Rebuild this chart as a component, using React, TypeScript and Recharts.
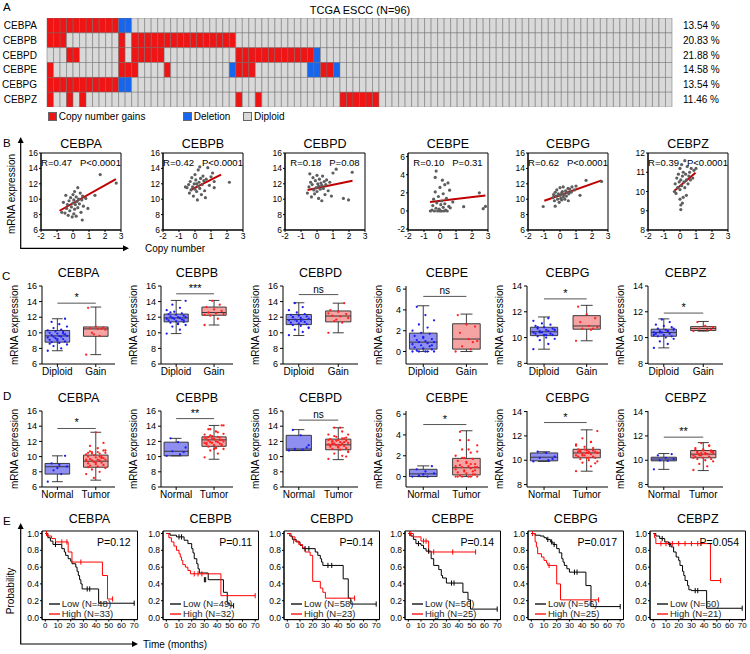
import React from 'react';
import {
  BarChart, Bar, Cell, XAxis, YAxis, ScatterChart, Scatter, ComposedChart, Line,
  ReferenceLine, ReferenceArea, Legend,
} from 'recharts';

const FONT = '"Liberation Sans", Arial, Helvetica, sans-serif';

const genes = ['CEBPA', 'CEBPB', 'CEBPD', 'CEBPE', 'CEBPG', 'CEBPZ'];

// ---- A: copy number status per sample (G = gain, D = deletion, N = diploid), 96 samples
const cnaStatus = [
  'G'.repeat(11) + 'DD' + 'N'.repeat(83),
  'GGG' + 'N'.repeat(8) + 'GN' + 'G'.repeat(16) + 'N'.repeat(67),
  'NNN' + 'GG' + 'N'.repeat(6) + 'GN' + 'G'.repeat(5) + 'N'.repeat(11) + 'G'.repeat(12) + 'D' + 'N'.repeat(54),
  'G' + 'N'.repeat(10) + 'GGG' + 'NNNN' + 'G' + 'N'.repeat(9) + 'D' + 'GGG' + 'N'.repeat(8) + 'DD' + 'GG' + 'D' + 'N'.repeat(51),
  'G'.repeat(11) + 'DD' + 'N'.repeat(83),
  'GNNGNG' + 'N'.repeat(23) + 'GNNG' + 'N'.repeat(12) + 'G'.repeat(6) + 'N'.repeat(45),
];
const cnaPct = ['13.54 %', '20.83 %', '21.88 %', '14.58 %', '13.54 %', '11.46 %'];
const cnaColor: Record<string, string> = { G: '#f01414', D: '#1666f0', N: '#d9d9d9' };

// ---- B: copy number vs mRNA expression
const bStats = [
  ['R=0.47', 'P<0.0001'], ['R=0.42', 'P<0.0001'], ['R=0.18', 'P=0.08'],
  ['R=0.10', 'P=0.31'], ['R=0.62', 'P<0.0001'], ['R=0.39', 'P<0.0001'],
];
const bDomain = [[6, 16], [6, 16], [6, 16], [-2.1, 6.4], [6, 16], [8, 12]];
const bTicks = [
  [6, 8, 10, 12, 14, 16], [6, 8, 10, 12, 14, 16], [6, 8, 10, 12, 14, 16],
  [-2, 0, 2, 4, 6], [6, 8, 10, 12, 14, 16], [8, 9, 10, 11, 12],
];
const bPoints = [
  [[-0.5, 8.2], [-0.4, 8.8], [-0.35, 9.3], [-0.3, 7.9], [-0.25, 9.8], [-0.2, 8.5], [-0.15, 10.2], [-0.1, 9.0], [-0.05, 7.7], [0, 9.5], [0, 10.6], [0.05, 8.1], [0.05, 9.9], [0.1, 8.7], [0.1, 11.0], [0.15, 9.3], [0.2, 10.3], [0.2, 7.8], [0.25, 9.7], [0.3, 11.5], [0.3, 8.9], [0.35, 10.0], [0.4, 9.4], [0.45, 10.8], [0.5, 8.3], [0.55, 9.9], [0.6, 10.4], [0.65, 9.1], [-0.6, 9.6], [-0.7, 8.3], [0.93, 8.8], [0.58, 7.3], [1.37, 10.5], [1.7, 13.2], [2.7, 12.1], [0.8, 10.1], [-0.45, 10.5]],
  [[-0.5, 11.5], [-0.4, 11.9], [-0.35, 10.8], [-0.3, 12.3], [-0.25, 11.2], [-0.2, 12.8], [-0.15, 11.6], [-0.1, 10.4], [-0.05, 12.0], [0, 11.3], [0, 13.2], [0.05, 12.5], [0.1, 11.0], [0.1, 12.0], [0.15, 9.9], [0.2, 11.7], [0.2, 13.8], [0.25, 12.2], [0.3, 11.4], [0.35, 12.7], [0.4, 10.6], [0.45, 11.9], [0.5, 13.0], [0.55, 12.4], [0.6, 11.1], [0.7, 12.6], [0.8, 14.1], [0.9, 11.8], [1.0, 12.9], [1.1, 13.4], [1.2, 11.5], [1.2, 12.3], [0.65, 10.2], [2.15, 12.2], [-0.6, 11.6], [0.3, 14.2]],
  [[-0.6, 10.8], [-0.5, 11.6], [-0.4, 12.2], [-0.35, 10.3], [-0.3, 11.9], [-0.25, 12.8], [-0.2, 11.2], [-0.15, 10.7], [-0.1, 12.4], [-0.05, 11.5], [0, 13.1], [0, 11.0], [0.05, 12.0], [0.1, 10.1], [0.1, 11.7], [0.15, 12.6], [0.2, 11.3], [0.25, 12.1], [0.3, 9.8], [0.3, 11.8], [0.35, 13.0], [0.4, 11.4], [0.45, 12.3], [0.5, 10.6], [0.55, 11.9], [0.6, 12.5], [0.7, 11.1], [0.8, 12.2], [1.0, 13.4], [1.2, 13.9], [1.65, 10.1], [1.97, 9.9], [2.2, 13.5], [0.9, 10.4], [-0.45, 13.3]],
  [[-0.6, 0.0], [-0.5, 0.1], [-0.45, 0.6], [-0.4, 1.3], [-0.35, 0.0], [-0.3, 2.1], [-0.25, 0.3], [-0.2, 0.9], [-0.15, 0.0], [-0.1, 1.6], [-0.05, 0.2], [0, 0.0], [0, 2.6], [0.05, 0.7], [0.1, 0.0], [0.1, 1.1], [0.15, 3.4], [0.2, 0.4], [0.2, 1.9], [0.25, 0.0], [0.3, 0.8], [0.3, 2.9], [0.35, 0.1], [0.4, 1.4], [0.45, 0.0], [0.5, 3.1], [0.55, 0.5], [0.6, 2.3], [-0.24, 4.4], [-0.3, 3.7], [0.64, 0.35], [1.48, 0.47], [2.46, 2.0], [2.84, 0.5], [2.7, 0.25], [0.8, 1.0]],
  [[-0.45, 10.2], [-0.4, 10.6], [-0.35, 9.8], [-0.3, 10.9], [-0.25, 10.4], [-0.2, 11.2], [-0.15, 10.0], [-0.1, 10.7], [-0.05, 9.6], [0, 10.5], [0, 11.5], [0.05, 10.1], [0.1, 10.8], [0.1, 9.9], [0.15, 11.0], [0.2, 10.3], [0.2, 11.6], [0.25, 10.6], [0.3, 10.0], [0.35, 11.1], [0.4, 10.4], [0.45, 10.9], [0.5, 11.4], [0.55, 10.7], [0.6, 11.3], [0.7, 10.9], [0.75, 11.6], [-1.05, 9.05], [-0.3, 9.1], [0.52, 9.8], [1.25, 10.5], [1.63, 12.45], [2.6, 12.3], [0.9, 11.2], [1.0, 11.7]],
  [[-0.35, 10.0], [-0.3, 10.4], [-0.25, 9.9], [-0.2, 10.7], [-0.15, 10.2], [-0.1, 10.9], [-0.05, 10.5], [0, 11.2], [0, 10.1], [0.05, 9.06], [0.05, 9.3], [0.05, 10.6], [0.1, 11.4], [0.1, 10.3], [0.15, 10.8], [0.2, 9.7], [0.2, 11.0], [0.25, 10.5], [0.3, 11.6], [0.3, 10.2], [0.35, 10.9], [0.4, 10.6], [0.45, 11.3], [0.5, 10.4], [0.55, 10.8], [0.6, 11.0], [0.65, 10.6], [0.7, 11.2], [0.8, 10.7], [0.87, 11.1], [0.0, 9.6], [0.15, 9.4], [0.4, 9.8], [1.0, 11.2]],
];
const bFit = [
  [[-0.84, 8.5], [2.68, 12.6]], [[-0.27, 11.2], [1.63, 13.2]], [[-0.59, 11.2], [2.22, 12.4]],
  [[-0.62, 1.0], [2.84, 1.7]], [[-0.98, 9.8], [2.6, 12.45]], [[-0.35, 10.04], [0.97, 10.98]],
];

// ---- C / D: expression by group
const cDiploid = [
  [7.7, 8.0, 8.3, 8.5, 8.7, 8.8, 8.9, 9.0, 9.1, 9.2, 9.3, 9.4, 9.5, 9.5, 9.6, 9.6, 9.7, 9.8, 9.9, 10.0, 10.1, 10.2, 10.3, 10.4, 10.6, 10.8, 11.1, 11.4, 11.8, 9.2, 8.6, 9.9],
  [9.9, 10.4, 10.8, 11.0, 11.2, 11.3, 11.4, 11.5, 11.6, 11.7, 11.8, 11.8, 11.9, 11.9, 12.0, 12.0, 12.1, 12.2, 12.3, 12.4, 12.5, 12.7, 12.9, 13.2, 13.6, 14.1, 11.1, 12.6, 11.6],
  [9.7, 10.1, 10.4, 10.7, 10.9, 11.0, 11.1, 11.2, 11.3, 11.4, 11.5, 11.6, 11.7, 11.7, 11.8, 11.9, 12.0, 12.1, 12.2, 12.3, 12.4, 12.6, 12.9, 13.3, 13.8, 10.6, 11.5, 12.0],
  [0, 0, 0, 0, 0, 0.1, 0.2, 0.3, 0.4, 0.5, 0.6, 0.7, 0.8, 0.9, 0.9, 1.0, 1.1, 1.2, 1.3, 1.5, 1.7, 1.8, 2.0, 2.3, 2.6, 3.0, 3.5, 4.3, 0.6, 1.4],
  [9.1, 9.5, 9.8, 9.9, 10.0, 10.1, 10.2, 10.2, 10.3, 10.3, 10.4, 10.4, 10.5, 10.5, 10.6, 10.6, 10.7, 10.7, 10.8, 10.9, 11.0, 11.1, 11.3, 11.5, 10.4, 10.6, 10.2, 10.8],
  [9.2, 9.5, 9.7, 9.9, 10.0, 10.1, 10.1, 10.2, 10.3, 10.3, 10.4, 10.4, 10.5, 10.5, 10.6, 10.6, 10.7, 10.8, 10.9, 11.0, 11.2, 11.4, 10.2, 10.5, 10.4, 10.7],
];
const cGain = [
  [7.2, 9.6, 10.0, 10.4, 10.5, 10.6, 10.7, 10.8, 13.2, 10.5, 9.8],
  [11.0, 11.8, 12.2, 12.4, 12.5, 12.6, 12.8, 13.0, 13.3, 13.6, 14.1, 12.3],
  [10.0, 11.3, 11.5, 11.9, 12.1, 12.2, 12.4, 12.7, 12.9, 13.8, 11.7, 12.5],
  [0, 0.2, 0.5, 1.0, 1.2, 1.8, 2.4, 2.6, 3.5, 0.9],
  [9.75, 10.6, 10.7, 10.8, 10.9, 11.2, 11.5, 11.8, 12.4, 10.7],
  [10.5, 10.6, 10.7, 10.8, 10.9, 11.2, 10.6],
];
const dNormal = [
  [6.7, 7.7, 8.2, 8.7, 8.9, 9.1, 10.1, 8.5],
  [10.1, 10.3, 10.7, 11.2, 11.9, 12.4, 10.6],
  [10.8, 10.9, 11.0, 11.5, 12.8, 13.5, 11.2],
  [0, 0, 0.1, 0.3, 0.5, 0.7, 1.0, 0.2],
  [9.9, 10.0, 10.2, 10.3, 10.6, 10.7, 10.1],
  [9.25, 9.95, 10.0, 10.1, 10.2, 10.4, 10.5],
];
// [min, q1, median, q3, max]
const cBoxDiploid = [[7.7, 8.8, 9.6, 10.3, 11.8], [9.9, 11.4, 11.9, 12.4, 14.15], [9.65, 11.05, 11.7, 12.35, 13.85], [0, 0.23, 0.9, 1.77, 4.4], [9.1, 10.15, 10.45, 10.8, 11.6], [9.2, 10.1, 10.4, 10.65, 11.45]];
const cBoxGain = [[7.2, 9.55, 10.5, 10.75, 13.3], [11.0, 12.25, 12.6, 13.3, 14.15], [10.0, 11.4, 12.15, 12.8, 13.8], [0, 0.23, 1.2, 2.67, 3.6], [9.75, 10.65, 10.9, 11.7, 12.5], [10.5, 10.55, 10.7, 10.85, 11.25]];
const dBoxNormal = [[6.7, 7.7, 8.67, 9.1, 10.1], [10.1, 10.1, 10.7, 11.9, 12.4], [10.8, 10.8, 11.0, 12.8, 13.55], [0, 0, 0.26, 0.7, 1.03], [9.9, 9.95, 10.25, 10.6, 10.7], [9.25, 9.95, 10.1, 10.25, 10.55]];
const dBoxTumor = [[6.9, 8.6, 9.4, 10.2, 13.2], [9.65, 11.35, 12.2, 12.6, 14.1], [9.6, 10.9, 11.55, 12.3, 13.8], [0, 0.16, 0.85, 1.75, 4.4], [9.1, 10.2, 10.6, 10.9, 12.5], [9.15, 10.2, 10.5, 10.8, 11.45]];
const cSig = [13.8, 15.0, 14.9, 5.3, 13.0, 11.9];
const cSigText = ['*', '***', 'ns', 'ns', '*', '*'];
const dSig = [13.7, 15.0, 14.8, 5.0, 13.1, 11.9];
const dSigText = ['*', '**', 'ns', '*', '*', '**'];
const cDomain = [[6, 16], [6, 16], [6, 16], [-1.2, 6.3], [7.95, 14], [7.95, 14]];
const dDomain = [[6, 16], [6, 16], [6, 16], [-1.0, 6.3], [7.8, 14.05], [7.8, 14.05]];
const boxTicks = [[6, 8, 10, 12, 14, 16], [6, 8, 10, 12, 14, 16], [6, 8, 10, 12, 14, 16], [0, 2, 4, 6], [8, 10, 12, 14], [8, 10, 12, 14]];

// ---- E: Kaplan-Meier [time, survival]
const kmLow = [
  [[0, 1], [2, 0.95], [4, 0.91], [6, 0.87], [13, 0.82], [15, 0.78], [16, 0.74], [18, 0.7], [20, 0.67], [21, 0.64], [24, 0.6], [25, 0.55], [26, 0.5], [27, 0.45], [28, 0.4], [29, 0.34], [42, 0.17], [70, 0.17]],
  [[0, 1], [3, 0.98], [8, 0.96], [14, 0.92], [17, 0.88], [20, 0.82], [21, 0.77], [22, 0.7], [24, 0.64], [25, 0.58], [26, 0.53], [33, 0.45], [45, 0.3], [48, 0.17], [50, 0.14], [53, 0.14]],
  [[0, 1], [2, 0.97], [4, 0.93], [7, 0.9], [10, 0.86], [12, 0.82], [22, 0.78], [24, 0.74], [26, 0.7], [27, 0.66], [28, 0.62], [44, 0.46], [48, 0.23], [50, 0.16], [70, 0.16]],
  [[0, 1], [2, 0.97], [4, 0.93], [6, 0.88], [10, 0.86], [12, 0.82], [14, 0.79], [18, 0.7], [20, 0.62], [24, 0.57], [26, 0.5], [27, 0.47], [30, 0.41], [43, 0.3], [47, 0.21], [49, 0.1], [70, 0.1]],
  [[0, 1], [3, 0.98], [7, 0.97], [10, 0.95], [12, 0.93], [15, 0.9], [17, 0.87], [20, 0.82], [22, 0.77], [24, 0.7], [25, 0.66], [26, 0.62], [28, 0.58], [30, 0.54], [43, 0.38], [47, 0.13], [70, 0.13]],
  [[0, 1], [2, 0.97], [5, 0.94], [9, 0.9], [12, 0.87], [14, 0.84], [16, 0.78], [18, 0.72], [20, 0.68], [21, 0.62], [23, 0.55], [24, 0.5], [25, 0.44], [27, 0.38], [28, 0.33], [30, 0.32], [42, 0.11], [70, 0.11]],
];
const kmHigh = [
  [[0, 1], [2, 0.97], [5, 0.94], [8, 0.9], [18, 0.78], [21, 0.66], [45, 0.5], [49, 0.22], [53, 0.22]],
  [[0, 1], [2, 0.95], [4, 0.9], [6, 0.85], [8, 0.8], [10, 0.76], [11, 0.72], [12, 0.68], [13, 0.63], [15, 0.6], [17, 0.56], [19, 0.52], [43, 0.26], [70, 0.26]],
  [[0, 1], [3, 0.96], [6, 0.91], [9, 0.87], [12, 0.83], [14, 0.78], [18, 0.74], [20, 0.43], [26, 0.35], [28, 0.3], [30, 0.23], [53, 0.23]],
  [[0, 1], [4, 0.96], [10, 0.91], [16, 0.78], [53, 0.78]],
  [[0, 1], [3, 0.9], [4, 0.84], [5, 0.76], [8, 0.72], [10, 0.68], [12, 0.65], [13, 0.62], [20, 0.4], [23, 0.21], [53, 0.21]],
  [[0, 1], [1, 0.95], [2, 0.88], [45, 0.44], [53, 0.44]],
];
const kmLowCens = [
  [[8, 0.87], [33, 0.34], [35, 0.34], [70, 0.17]],
  [[10, 0.96], [12, 0.96], [30, 0.45], [31, 0.45], [53, 0.14]],
  [[14, 0.82], [17, 0.82], [32, 0.62], [35, 0.62], [70, 0.16]],
  [[8, 0.88], [16, 0.79], [34, 0.41], [36, 0.41], [70, 0.1]],
  [[13, 0.93], [16, 0.9], [18, 0.87], [34, 0.54], [36, 0.54], [70, 0.13]],
  [[7, 0.94], [13, 0.87], [33, 0.32], [35, 0.32], [70, 0.11]],
];
const kmHighCens = [
  [[1, 1], [13, 0.9], [17, 0.9], [28, 0.66], [53, 0.22]],
  [[22, 0.52], [25, 0.52], [28, 0.52], [70, 0.26]],
  [[5, 0.91], [53, 0.23]],
  [[1, 1], [2, 1], [12, 0.91], [14, 0.91], [20, 0.78], [35, 0.78], [53, 0.78]],
  [[1, 1], [14, 0.62], [53, 0.21]],
  [[6, 0.88], [10, 0.88], [15, 0.88], [20, 0.88], [25, 0.88], [30, 0.88], [35, 0.88], [53, 0.44]],
];
const kmN = [[48, 33], [49, 32], [58, 23], [56, 25], [56, 25], [60, 21]];
const kmP = ['P=0.12', 'P=0.11', 'P=0.14', 'P=0.14', 'P=0.017', 'P=0.054'];
const kmXTicks = [0, 10, 20, 30, 40, 50, 60, 70];
const kmYTicks = [0, 0.2, 0.4, 0.6, 0.8, 1.0];

// ---- layout
const bLeft = [41, 163, 285, 408, 528, 648];
const boxAxis = [42, 161, 283, 406, 527, 648];
const boxWidth = [73, 72, 75, 82, 81, 75];
const kmLeft = [41.7, 163, 284, 405, 528, 650];

const BLUE_BOX = '#8f8ff2';
const RED_BOX = '#f5a3a3';
const BLUE_DOT = '#1c1cf0';
const RED_DOT = '#ff2020';

const tickStyle = { fontSize: 8.5, fill: '#000', fontFamily: FONT };

const dot = (fill: string, r: number) => (p: any) => <circle cx={p.cx} cy={p.cy} r={r} fill={fill} />;
const censor = (stroke: string) => (p: any) => (
  <path d={`M${p.cx},${p.cy - 2.6}V${p.cy + 2.6}`} stroke={stroke} strokeWidth={1} />
);
const jitter = (i: number) => (((i * 7) % 11) - 5) * 0.05;
const toPts = (vals: number[], pos: number) => vals.map((y, i) => ({ x: pos + jitter(i), y }));

function Title({ cx, cy, text }: { cx: number; cy: number; text: string }) {
  return (
    <div style={{ position: 'absolute', left: cx - 40, width: 80, top: cy - 7, lineHeight: '14px', textAlign: 'center', fontSize: 12.5 }}>
      {text}
    </div>
  );
}

function boxMarks(pos: number, s: number[], fill: string, key: string) {
  const [mn, q1, md, q3, mx] = s;
  const hw = 0.32;
  const cw = 0.14;
  const st = { stroke: '#2a2a2a', strokeWidth: 0.9 };
  return [
    <ReferenceLine key={key + 'w1'} segment={[{ x: pos, y: mn }, { x: pos, y: q1 }]} {...st} ifOverflow="visible" />,
    <ReferenceLine key={key + 'w2'} segment={[{ x: pos, y: q3 }, { x: pos, y: mx }]} {...st} ifOverflow="visible" />,
    <ReferenceLine key={key + 'c1'} segment={[{ x: pos - cw, y: mn }, { x: pos + cw, y: mn }]} {...st} ifOverflow="visible" />,
    <ReferenceLine key={key + 'c2'} segment={[{ x: pos - cw, y: mx }, { x: pos + cw, y: mx }]} {...st} ifOverflow="visible" />,
    <ReferenceArea key={key + 'b'} x1={pos - hw} x2={pos + hw} y1={q1} y2={q3} fill={fill} fillOpacity={1} stroke="#2a2a2a" strokeWidth={0.9} ifOverflow="visible" />,
    <ReferenceLine key={key + 'm'} segment={[{ x: pos - hw, y: md }, { x: pos + hw, y: md }]} {...st} ifOverflow="visible" />,
  ];
}

function ScatterPanel({ i }: { i: number }) {
  const L = bLeft[i];
  const yw = 22;
  const mt = 6;
  const dom = bDomain[i];
  const pts = bPoints[i].map(([x, y]) => ({ x, y }));
  const [p0, p1] = bFit[i];
  return (
    <>
      <Title cx={L + 40} cy={144} text={genes[i]} />
      <div style={{ position: 'absolute', left: L - yw, top: 152.7 - mt }}>
        <ScatterChart width={yw + 80 + 3} height={mt + 77 + 16} margin={{ top: mt, right: 3, bottom: 0, left: 0 }}>
          <XAxis type="number" dataKey="x" domain={[-2, 3]} allowDataOverflow ticks={[-2, -1, 0, 1, 2, 3]} interval={0} height={16} tickSize={2} tickMargin={1} stroke="#000" tick={tickStyle} />
          <YAxis type="number" dataKey="y" domain={dom} allowDataOverflow ticks={bTicks[i]} interval={0} width={yw} tickSize={2} tickMargin={1} stroke="#000" tick={tickStyle} />
          <ReferenceArea x1={-2} x2={3} y1={dom[0]} y2={dom[1]} fill="none" stroke="#000" strokeWidth={1} ifOverflow="visible" />
          <Scatter data={pts} isAnimationActive={false} shape={dot('#5e5e5e', 1.6)} />
          <ReferenceLine segment={[{ x: p0[0], y: p0[1] }, { x: p1[0], y: p1[1] }]} stroke="#c00000" strokeWidth={2} ifOverflow="visible" />
        </ScatterChart>
      </div>
      <div style={{ position: 'absolute', left: L, width: 80, top: 156.5, lineHeight: '11px', textAlign: 'center', fontSize: 9.5, whiteSpace: 'nowrap' }}>
        {bStats[i][0]}
        <span style={{ marginLeft: 8 }}>{bStats[i][1]}</span>
      </div>
    </>
  );
}

function BoxPanel(props: {
  i: number; top: number; height: number; titleY: number; dom: number[]; names: string[];
  boxA: number[]; boxB: number[]; valsA: number[]; valsB: number[]; colorsA: string[]; colorsB: string[];
  sig: number; sigText: string;
}) {
  const { i, top, height, titleY, dom, names, boxA, boxB, valsA, valsB, colorsA, colorsB, sig, sigText } = props;
  const A = boxAxis[i];
  const W = boxWidth[i];
  const yw = 38;
  const mt = 6;
  return (
    <>
      <Title cx={A + W / 2} cy={titleY} text={genes[i]} />
      <div style={{ position: 'absolute', left: A - yw, top: top - mt }}>
        <ScatterChart width={yw + W + 2} height={mt + height + 20} margin={{ top: mt, right: 2, bottom: 0, left: 0 }}>
          <XAxis type="number" dataKey="x" domain={[0.6, 2.5]} allowDataOverflow ticks={[1, 2]} interval={0}
            tickFormatter={(v: number) => (v === 1 ? names[0] : names[1])}
            height={20} tickSize={3} tickMargin={1} stroke="#000" tick={{ fontSize: 10, fill: '#000', fontFamily: FONT }} />
          <YAxis type="number" dataKey="y" domain={dom} allowDataOverflow ticks={boxTicks[i]} interval={0} width={yw}
            tickSize={3} tickMargin={2} stroke="#000" tick={{ fontSize: 9, fill: '#000', fontFamily: FONT }}
            label={{ value: 'mRNA expression', angle: -90, position: 'insideLeft', offset: 10, fill: '#000', fontSize: 10, style: { textAnchor: 'middle', fontFamily: FONT } }} />
          {boxMarks(1, boxA, colorsA[0], 'a')}
          {boxMarks(2, boxB, colorsB[0], 'b')}
          <Scatter data={toPts(valsA, 1)} isAnimationActive={false} shape={dot(colorsA[1], 1.15)} />
          <Scatter data={toPts(valsB, 2)} isAnimationActive={false} shape={dot(colorsB[1], 1.15)} />
          <ReferenceLine segment={[{ x: 1, y: sig }, { x: 2, y: sig }]} stroke="#555" strokeWidth={1} ifOverflow="visible"
            label={{ value: sigText, position: 'top', offset: 2, fill: '#000', fontSize: sigText === 'ns' ? 10 : 11, fontFamily: FONT }} />
        </ScatterChart>
      </div>
    </>
  );
}

const KmLegend = (props: any) => {
  const items = (props.payload || [])
    .filter((e: any) => e.type !== 'none' && String(e.value).indexOf('(N=') >= 0)
    .sort((a: any, b: any) => (String(a.value).startsWith('Low') ? -1 : 1) - (String(b.value).startsWith('Low') ? -1 : 1));
  return (
    <div style={{ fontFamily: FONT, fontSize: 9.5, lineHeight: '10.5px' }}>
      {items.map((e: any, k: number) => (
        <div key={k} style={{ display: 'flex', alignItems: 'center', whiteSpace: 'nowrap' }}>
          <svg width={11} height={6} style={{ marginRight: 2 }}>
            <line x1={0} y1={3} x2={11} y2={3} stroke={e.color} strokeWidth={1.3} />
          </svg>
          <span style={{ color: '#222' }}>{e.value}</span>
        </div>
      ))}
    </div>
  );
};

function KmPanel({ i }: { i: number }) {
  const P = kmLeft[i];
  const yw = 22;
  const W = 95.5;
  const H = 88.6;
  const mt = 3;
  const toTS = (a: number[][]) => a.map(([t, s]) => ({ t, s }));
  return (
    <>
      <Title cx={P + W / 2} cy={519} text={genes[i]} />
      <div style={{ position: 'absolute', left: P - yw, top: 530.7 - mt }}>
        <ComposedChart width={yw + W + 3} height={mt + H + 16} margin={{ top: mt, right: 3, bottom: 0, left: 0 }}>
          <XAxis type="number" dataKey="t" domain={[-2.6, 72.6]} allowDataOverflow ticks={kmXTicks} interval={0} height={16} tickSize={2} tickMargin={1} stroke="#000" tick={{ ...tickStyle, fontSize: 8 }} />
          <YAxis type="number" domain={[-0.025, 1.03]} allowDataOverflow ticks={kmYTicks} interval={0} width={yw} tickSize={2} tickMargin={1} stroke="#000" tick={tickStyle} tickFormatter={(v: number) => v.toFixed(1)} />
          <ReferenceArea x1={-2.6} x2={72.6} y1={-0.025} y2={1.03} fill="none" stroke="#000" strokeWidth={1} ifOverflow="visible" />
          <Line data={toTS(kmLow[i])} dataKey="s" type="stepAfter" stroke="#000" strokeWidth={1} dot={false} isAnimationActive={false} name={`Low (N=${kmN[i][0]})`} />
          <Line data={toTS(kmHigh[i])} dataKey="s" type="stepAfter" stroke="#ff0000" strokeWidth={1} dot={false} isAnimationActive={false} name={`High (N=${kmN[i][1]})`} />
          <Scatter data={toTS(kmLowCens[i])} dataKey="s" legendType="none" isAnimationActive={false} shape={censor('#000')} />
          <Scatter data={toTS(kmHighCens[i])} dataKey="s" legendType="none" isAnimationActive={false} shape={censor('#ff0000')} />
          <Legend layout="vertical" align="center" verticalAlign="middle" content={KmLegend} wrapperStyle={{ left: 29, top: 68 + mt, width: 'auto' }} />
        </ComposedChart>
      </div>
      <div style={{ position: 'absolute', left: P, width: 89, top: 536, lineHeight: '12px', textAlign: 'right', fontSize: 10.5 }}>
        {kmP[i]}
      </div>
    </>
  );
}

function Heatmap() {
  const rows = genes.map((g) => {
    const row: any = { gene: g };
    for (let c = 0; c < 96; c++) row['c' + c] = 1;
    return row;
  });
  const cols = Array.from({ length: 96 }, (_, c) => c);
  return (
    <div style={{ position: 'absolute', left: 0, top: 18 }}>
      <BarChart width={750} height={89} data={rows} layout="vertical" barCategoryGap={0} margin={{ top: 0, right: 0, bottom: 0, left: 0 }}>
        <XAxis type="number" hide domain={[0, 96]} />
        <YAxis type="category" dataKey="gene" width={47} axisLine={false} tickLine={false} tickMargin={4} interval={0} tick={{ fontSize: 10, fill: '#000', fontFamily: FONT }} />
        <YAxis yAxisId="pct" orientation="right" type="category" dataKey="gene" width={78} axisLine={false} tickLine={false} tickMargin={5} interval={0}
          tickFormatter={(g: string) => cnaPct[genes.indexOf(g)]} tick={{ fontSize: 10, fill: '#000', fontFamily: FONT }} />
        {cols.map((c) => (
          <Bar key={c} dataKey={'c' + c} stackId="s" isAnimationActive={false} stroke="#6c6c6c" strokeWidth={0.5}>
            {genes.map((g, r) => (
              <Cell key={g} fill={cnaColor[cnaStatus[r][c]]} />
            ))}
          </Bar>
        ))}
      </BarChart>
    </div>
  );
}

function Overlay() {
  const t = { fontFamily: FONT, fill: '#000' } as any;
  return (
    <svg width={750} height={654} style={{ position: 'absolute', left: 0, top: 0 }}>
      <text x={3} y={11} fontSize={11.5} {...t}>A</text>
      <text x={360} y={13.5} fontSize={11} textAnchor="middle" {...t}>TCGA ESCC (N=96)</text>
      <text x={3} y={147} fontSize={11.5} {...t}>B</text>
      <text x={2} y={280} fontSize={11.5} {...t}>C</text>
      <text x={3} y={400} fontSize={11.5} {...t}>D</text>
      <text x={3} y={525} fontSize={11.5} {...t}>E</text>
      {/* B axis arrows */}
      <path d="M20.7,142V248.3H124" fill="none" stroke="#000" strokeWidth={1.2} />
      <path d="M17.7,143L20.7,137L23.7,143Z" fill="#000" />
      <path d="M123,245.3L129,248.3L123,251.3Z" fill="#000" />
      <text x={145} y={252} fontSize={10} {...t}>Copy number</text>
      <text x={11} y={194} fontSize={10} textAnchor="middle" dominantBaseline="central" transform="rotate(-90 11 194)" {...t}>mRNA expression</text>
      {/* E axis arrows */}
      <path d="M20.7,528V644H133" fill="none" stroke="#000" strokeWidth={1.2} />
      <path d="M17.7,529L20.7,523L23.7,529Z" fill="#000" />
      <path d="M132,641L138,644L132,647Z" fill="#000" />
      <text x={143} y={647.5} fontSize={10} {...t}>Time (months)</text>
      <text x={10.5} y={591} fontSize={10} textAnchor="middle" dominantBaseline="central" transform="rotate(-90 10.5 591)" {...t}>Probability</text>
    </svg>
  );
}

function CnaLegend() {
  const items = [
    { label: 'Copy number gains', color: cnaColor.G, x: 47.7 },
    { label: 'Deletion', color: cnaColor.D, x: 182.7 },
    { label: 'Diploid', color: cnaColor.N, x: 243 },
  ];
  return (
    <>
      {items.map((it) => (
        <div key={it.label} style={{ position: 'absolute', left: it.x, top: 110.5, display: 'flex', alignItems: 'center', fontSize: 10, lineHeight: '12px', whiteSpace: 'nowrap' }}>
          <span style={{ width: 7, height: 7, background: it.color, border: '0.5px solid #666', marginRight: 2, display: 'inline-block' }} />
          {it.label}
        </div>
      ))}
    </>
  );
}

export default function App() {
  const idx = [0, 1, 2, 3, 4, 5];
  return (
    <div style={{ position: 'absolute', left: 0, top: 0, width: 750, height: 654, background: '#fff', fontFamily: FONT, color: '#000', overflow: 'hidden' }}>
      <Overlay />
      <Heatmap />
      <CnaLegend />
      {idx.map((i) => <ScatterPanel key={'b' + i} i={i} />)}
      {idx.map((i) => (
        <BoxPanel key={'c' + i} i={i} top={286} height={78} titleY={273} dom={cDomain[i]} names={['Diploid', 'Gain']}
          boxA={cBoxDiploid[i]} boxB={cBoxGain[i]} valsA={cDiploid[i]} valsB={cGain[i]}
          colorsA={[BLUE_BOX, BLUE_DOT]} colorsB={[RED_BOX, RED_DOT]} sig={cSig[i]} sigText={cSigText[i]} />
      ))}
      {idx.map((i) => (
        <BoxPanel key={'d' + i} i={i} top={411} height={76} titleY={398} dom={dDomain[i]} names={['Normal', 'Tumor']}
          boxA={dBoxNormal[i]} boxB={dBoxTumor[i]} valsA={dNormal[i]} valsB={[...cDiploid[i], ...cGain[i]]}
          colorsA={[BLUE_BOX, BLUE_DOT]} colorsB={[RED_BOX, RED_DOT]} sig={dSig[i]} sigText={dSigText[i]} />
      ))}
      {idx.map((i) => <KmPanel key={'e' + i} i={i} />)}
    </div>
  );
}
